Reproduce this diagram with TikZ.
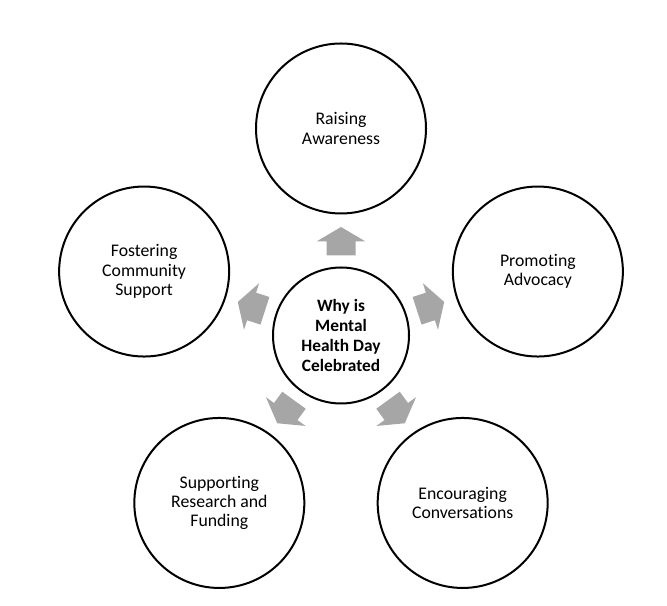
\documentclass[tikz,border=0pt]{standalone}
\usepackage{fontspec}
\setmainfont{Carlito}[Ligatures=NoCommon]
\definecolor{arrowgray}{HTML}{A6A6A6}
\begin{document}
\begin{tikzpicture}[x=0.75pt,y=0.75pt,
  leaf/.style={circle,draw=black,line width=1.5pt,minimum size=127.5pt,inner sep=0pt,align=center,font=\fontsize{13.3}{14.5}\selectfont},
  hub/.style={circle,draw=black,line width=1.5pt,minimum size=102pt,inner sep=0pt,align=center,font=\fontsize{13}{15}\selectfont\bfseries},
  blockarrow/.style={fill=arrowgray,draw=none}]
\useasboundingbox (0,0) rectangle (667,606);
\node[hub] (c) at (341,270.5) {Why is\\Mental\\Health Day\\Celebrated};
\node[leaf] (n1) at ([shift={(90:207)}]c.center) {Raising\\Awareness};
\node[leaf] (n2) at ([shift={(18:207)}]c.center) {Promoting\\Advocacy};
\node[leaf] (n3) at ([shift={(-54:207)}]c.center) {Encouraging\\Conversations};
\node[leaf] (n4) at ([shift={(234:207)}]c.center) {Supporting\\Research and\\Funding};
\node[leaf] (n5) at ([shift={(162:207)}]c.center) {Fostering\\Community\\Support};
\foreach \a in {90,18,-54,234,162}
  \fill[blockarrow,shift={(c.center)},rotate=\a]
    (80,-14.5) -- (94,-14.5) -- (94,-24.5) -- (108.5,0) -- (94,24.5) -- (94,14.5) -- (80,14.5) -- cycle;
\end{tikzpicture}
\end{document}
